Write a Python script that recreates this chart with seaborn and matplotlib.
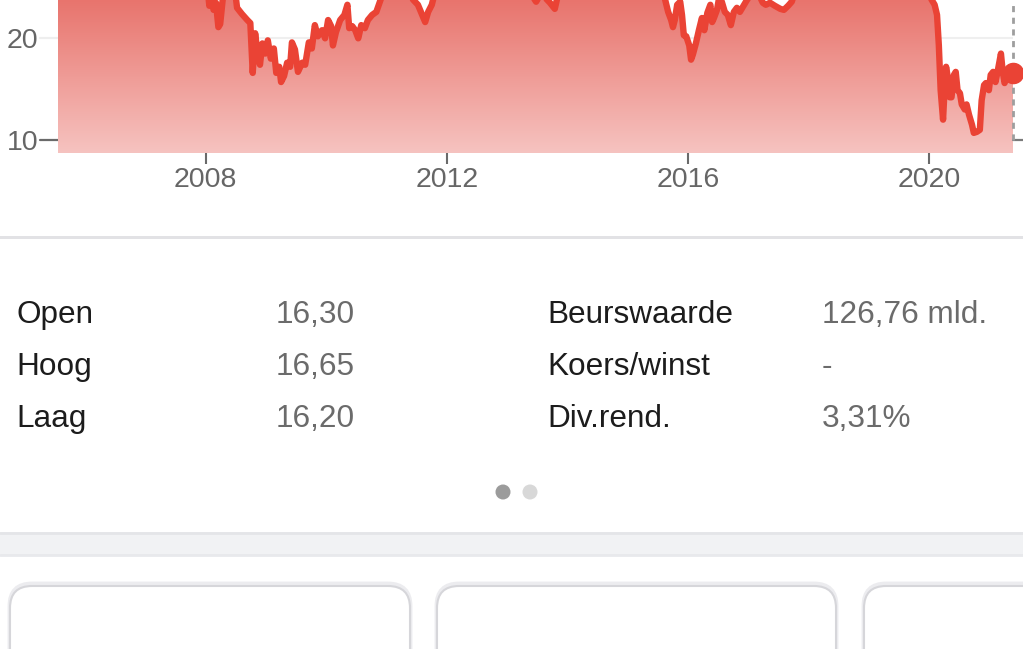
import numpy as np
import pandas as pd
import matplotlib
matplotlib.use("Agg")
import matplotlib.pyplot as plt
import matplotlib.transforms as mtransforms
import seaborn as sns
from matplotlib.colors import LinearSegmentedColormap
from matplotlib.patches import PathPatch, FancyBboxPatch, Rectangle, Circle

# ---------------- data ----------------
years = [
    2005.55, 2005.75, 2005.95, 2006.15, 2006.35, 2006.55, 2006.75, 2006.95,
    2007.15, 2007.35, 2007.55, 2007.75, 2007.95, 2008.03, 2008.06, 2008.09,
    2008.13, 2008.17, 2008.21, 2008.24, 2008.27, 2008.30, 2008.40, 2008.48,
    2008.52, 2008.60, 2008.69, 2008.74, 2008.78, 2008.82, 2008.85, 2008.90,
    2008.94, 2008.99, 2009.03, 2009.08, 2009.13, 2009.17, 2009.22, 2009.25,
    2009.30, 2009.35, 2009.40, 2009.43, 2009.48, 2009.53, 2009.60, 2009.65,
    2009.71, 2009.76, 2009.81, 2009.86, 2009.93, 2009.98, 2010.03, 2010.08,
    2010.11, 2010.16, 2010.23, 2010.30, 2010.35, 2010.38, 2010.43, 2010.48,
    2010.53, 2010.58, 2010.64, 2010.69, 2010.76, 2010.83, 2010.89, 2010.94,
    2011.10, 2011.30,
    2011.44, 2011.52, 2011.59, 2011.64, 2011.69, 2011.75, 2011.80, 2012.00,
    2012.30, 2012.60, 2012.90, 2013.20, 2013.38, 2013.48, 2013.56, 2013.63,
    2013.71, 2013.79, 2013.84, 2014.10, 2014.50, 2014.80, 2015.10, 2015.30,
    2015.50, 2015.58, 2015.62, 2015.67, 2015.72, 2015.75, 2015.78, 2015.82,
    2015.87, 2015.90, 2015.93, 2015.97, 2016.02, 2016.05, 2016.08, 2016.13,
    2016.18, 2016.23, 2016.27, 2016.32, 2016.37, 2016.40, 2016.43, 2016.48,
    2016.51, 2016.56, 2016.61, 2016.66, 2016.71, 2016.76, 2016.81, 2016.86,
    2016.93, 2016.98, 2017.06, 2017.16, 2017.24, 2017.29, 2017.36, 2017.44,
    2017.53, 2017.59, 2017.66, 2017.72, 2017.77, 2018.00, 2018.40, 2018.80,
    2019.10, 2019.50, 2019.90, 2019.98, 2020.04, 2020.09, 2020.13, 2020.16,
    2020.19, 2020.23, 2020.25, 2020.28, 2020.31, 2020.34, 2020.37, 2020.41,
    2020.44, 2020.47, 2020.51, 2020.54, 2020.59, 2020.62, 2020.66, 2020.71,
    2020.74, 2020.79, 2020.84, 2020.87, 2020.91, 2020.94, 2020.99, 2021.02,
    2021.06, 2021.10, 2021.14, 2021.19, 2021.22, 2021.25, 2021.30, 2021.35,
    2021.39,
]
prices = [
    26.5, 27.5, 28.0, 29.5, 28.0, 29.0, 27.5, 26.5,
    27.0, 28.5, 29.5, 28.5, 27.0, 25.0, 23.2, 24.2,
    22.8, 23.5, 21.1, 21.4, 23.2, 24.8, 26.0, 25.0,
    23.0, 22.4, 21.8, 21.5, 16.6, 20.5, 19.0, 17.4,
    19.5, 18.5, 19.8, 18.0, 19.0, 16.6, 17.2, 15.7,
    16.3, 17.6, 17.2, 19.6, 18.9, 16.7, 17.6, 17.4,
    19.6, 19.0, 21.3, 20.2, 20.8, 20.0, 21.8, 21.2,
    19.3, 20.6, 21.8, 22.3, 23.3, 21.0, 21.2, 20.8,
    20.0, 21.3, 21.0, 21.8, 22.3, 22.6, 23.6, 24.5,
    26.0, 25.5,
    23.8, 23.3, 22.3, 21.6, 22.6, 23.3, 24.5, 26.0,
    25.0, 26.5, 27.0, 25.5, 24.5, 23.6, 24.4, 24.0,
    23.5, 22.9, 24.2, 25.5, 28.5, 26.5, 27.0, 28.0,
    25.5, 24.5, 23.8, 22.6, 21.8, 21.1, 21.8, 23.3,
    23.6, 22.3, 20.3, 20.2, 19.3, 17.9, 18.4, 19.5,
    20.8, 22.0, 20.8, 22.5, 23.3, 21.6, 22.0, 22.8,
    23.8, 23.6, 22.6, 22.3, 21.3, 22.6, 23.0, 22.6,
    23.3, 23.8, 24.3, 24.5, 23.5, 23.3, 23.5, 23.2,
    22.9, 22.8, 23.2, 23.6, 24.5, 27.0, 29.5, 28.0,
    28.5, 27.5, 26.5, 24.5, 23.8, 23.3, 22.3, 19.3,
    14.9, 12.0, 14.4, 17.2, 16.1, 14.2, 14.2, 16.4,
    16.7, 14.9, 14.6, 13.5, 13.0, 13.5, 12.5, 11.5,
    10.7, 10.8, 11.0, 13.9, 15.4, 15.6, 14.9, 16.4,
    16.7, 15.7, 16.9, 18.5, 16.7, 15.6, 16.4, 16.6,
    16.6,
]
x_ticks = [2008, 2012, 2016, 2020]
x_tick_labels = ["2008", "2012", "2016", "2020"]
y_ticks = [10, 20]
y_tick_labels = ["10", "20"]
y_tick_colors = ["#6a6a6a", "#eeeeee"]

stat_labels_left = ["Open", "Hoog", "Laag"]
stat_values_left = ["16,30", "16,65", "16,20"]
stat_labels_right = ["Beurswaarde", "Koers/winst", "Div.rend."]
stat_values_right = ["126,76 mld.", "-", "3,31%"]

# ---------------- style ----------------
W, H, DPI = 1023, 649, 100
RED = "#ea4335"
sns.set_theme(style="white")
plt.rcParams["font.family"] = ["Liberation Sans", "DejaVu Sans"]

fig = plt.figure(figsize=(W / DPI, H / DPI), dpi=DPI)
fig.patch.set_facecolor("white")

# overlay axes in pixel coordinates for the page decorations
ov = fig.add_axes([0, 0, 1, 1], zorder=0)
ov.set_xlim(0, W)
ov.set_ylim(H, 0)
ov.axis("off")

# chart axes
AX_L, AX_R, AX_B = 58, 1013, 153
ax = fig.add_axes([AX_L / W, 1 - AX_B / H, (AX_R - AX_L) / W, AX_B / H], zorder=2)
ax.set_facecolor("none")
XMIN, XMAX = 2005.55, 2021.39
YMIN, YMAX = 8.72, 23.77

df = pd.DataFrame({"year": years, "price": prices})

# gradient area under the line
poly = ax.fill_between(df["year"], df["price"], YMIN, color="none", lw=0)
path = poly.get_paths()[0]
clip = PathPatch(path, transform=ax.transData, facecolor="none", edgecolor="none")
ax.add_patch(clip)
cmap = LinearSegmentedColormap.from_list("g", ["#f6c3c0", "#e8746d"])
grad = np.linspace(0, 1, 256).reshape(-1, 1)
im = ax.imshow(grad, extent=[XMIN, XMAX, YMIN, YMAX], origin="lower",
               aspect="auto", cmap=cmap, zorder=1, interpolation="bilinear")
im.set_clip_path(clip)

ax.axhline(20, color="#efefef", lw=1.5, zorder=0.5)

sns.lineplot(data=df, x="year", y="price", ax=ax, color=RED, linewidth=4.6,
             estimator=None, sort=False, zorder=3)

# last value marker and dashed guide
ax.vlines(df["year"].iloc[-1], 10, YMAX, colors="#9e9e9e", linestyles=(0, (2.2, 2.0)),
          lw=2.0, clip_on=False, zorder=2.5)
ax.plot(df["year"].iloc[-1], df["price"].iloc[-1], "o", ms=14.5, color=RED,
        clip_on=False, zorder=4)

ax.set_xlim(XMIN, XMAX)
ax.set_ylim(YMIN, YMAX)
ax.set_xlabel("")
ax.set_ylabel("")
for s in ax.spines.values():
    s.set_visible(False)

ax.set_xticks(x_ticks)
ax.set_xticklabels(x_tick_labels)
ax.set_yticks(y_ticks)
ax.set_yticklabels(y_tick_labels)
ax.tick_params(axis="x", direction="inout", length=16.5, width=1.5,
               color="#6a6a6a", labelcolor="#666666", labelsize=20.5, pad=2,
               bottom=True)
ax.tick_params(axis="y", direction="out", length=13, width=1.5,
               color="none", labelcolor="#666666", labelsize=20.5, pad=1,
               left=True)
# y tick marks drawn individually (light one at 20, dark one at 10)
ytrans = mtransforms.blended_transform_factory(ax.transAxes, ax.transData)
tick_len = 18 / (AX_R - AX_L)
for v, c in zip(y_ticks, y_tick_colors):
    ax.plot([-tick_len, 0], [v, v], color=c, lw=1.6, transform=ytrans,
            clip_on=False, zorder=0.5)
# small right tick at 10
ax.plot([1.0, 1.0 + 10 / (AX_R - AX_L)], [10, 10], color="#7a7a7a", lw=1.6,
        transform=ytrans, clip_on=False)

# separator under chart
ov.add_patch(Rectangle((0, 236), W, 3, color="#e2e2e5", lw=0))

# stats table
FS = 22.7
rows_y = [323, 375, 427]
for lab, val, y in zip(stat_labels_left, stat_values_left, rows_y):
    ov.text(16, y, lab, fontsize=FS, color="#1c1c1c", va="baseline", ha="left")
    ov.text(276, y, val, fontsize=FS, color="#6b6b6b", va="baseline", ha="left")
for lab, val, y in zip(stat_labels_right, stat_values_right, rows_y):
    ov.text(547, y, lab, fontsize=FS, color="#1c1c1c", va="baseline", ha="left")
    ov.text(822, y, val, fontsize=FS, color="#6b6b6b", va="baseline", ha="left")

# page dots
ov.add_patch(Circle((503, 492), 7.5, color="#9b9b9b", lw=0))
ov.add_patch(Circle((530, 492), 7.5, color="#d8d8d8", lw=0))

# gray band
ov.add_patch(Rectangle((0, 532), W, 24, facecolor="#f1f2f4", edgecolor="none"))
ov.plot([0, W], [533, 533], color="#e4e5e8", lw=2)
ov.plot([0, W], [555, 555], color="#e8e9ec", lw=2)

# cards
for x0, x1 in [(10, 410), (437, 836), (864, 1100)]:
    shadow = FancyBboxPatch((x0, 584), x1 - x0, 120,
                            boxstyle="round,pad=0,rounding_size=22",
                            facecolor="none", edgecolor="#ececef", lw=3.5)
    ov.add_patch(shadow)
    card = FancyBboxPatch((x0, 586), x1 - x0, 120,
                          boxstyle="round,pad=0,rounding_size=22",
                          facecolor="white", edgecolor="#d6d6da", lw=1.5)
    ov.add_patch(card)

fig.savefig("out.png", dpi=DPI, facecolor="white")
